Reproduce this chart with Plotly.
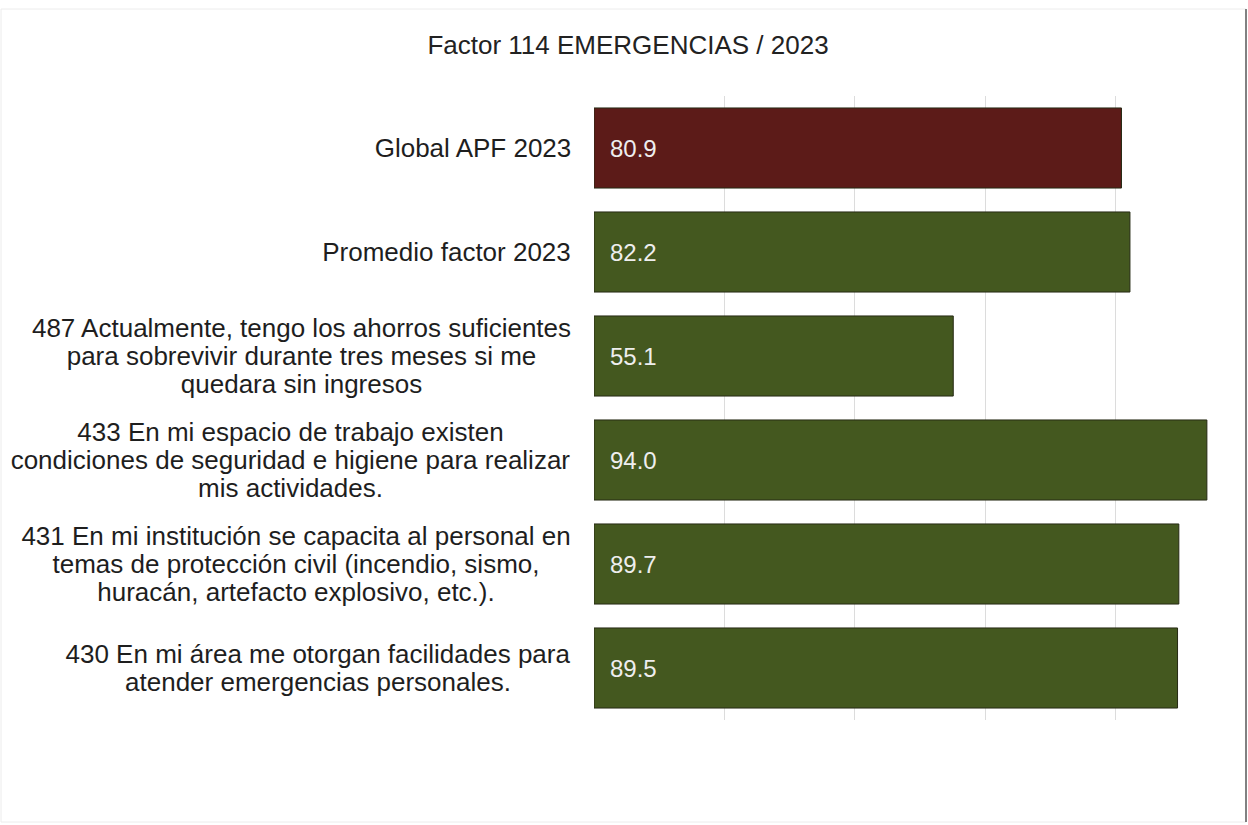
import plotly.graph_objects as go

# Chart data (top to bottom)
categories = [
    "Global APF 2023",
    "Promedio factor 2023",
    "487 Actualmente, tengo los ahorros suficientes\npara sobrevivir durante tres meses si me\nquedara sin ingresos",
    "433 En mi espacio de trabajo existen\ncondiciones de seguridad e higiene para realizar\nmis actividades.",
    "431 En mi institución se capacita al personal en\ntemas de protección civil (incendio, sismo,\nhuracán, artefacto explosivo, etc.).",
    "430 En mi área me otorgan facilidades para\natender emergencias personales.",
]
values = [80.9, 82.2, 55.1, 94.0, 89.7, 89.5]
bar_colors = ["#5c1b18", "#44581f", "#44581f", "#44581f", "#44581f", "#44581f"]
title_text = "Factor 114 EMERGENCIAS / 2023"

# Approximate width (px) of each multi-line label block, used to centre its lines
label_block_widths = [196, 249, 539, 561, 550, 506]

W, H = 1248, 825
ML, MR, MT, MB = 594, 2, 96, 105
plot_w = W - ML - MR
plot_h = H - MT - MB

FONT = "Liberation Sans, Arial, sans-serif"

fig = go.Figure()
fig.add_trace(go.Bar(
    y=categories,
    x=values,
    orientation="h",
    marker=dict(color=bar_colors, line=dict(color="#262a14", width=1)),
    width=0.77,
    hoverinfo="skip",
    showlegend=False,
))

annotations = []
# value labels inside each bar, near its base
for cat, v in zip(categories, values):
    annotations.append(dict(
        x=0, y=cat, xref="x", yref="y",
        text=f"{v:.1f}", showarrow=False,
        xanchor="left", yanchor="middle", xshift=14,
        font=dict(family=FONT, size=24, color="#eeeeee"),
    ))

# category labels, centred line by line, right edge just left of the axis
label_right = (573 - ML) / plot_w
line_h = 28
for cat, bw in zip(categories, label_block_widths):
    lines = cat.split("\n")
    n = len(lines)
    for i, ln in enumerate(lines):
        off = (i - (n - 1) / 2) * line_h
        annotations.append(dict(
            x=label_right, y=cat, xref="paper", yref="y",
            text=ln, showarrow=False,
            xanchor="right", yanchor="middle", yshift=-off,
            width=bw, align="center",
            font=dict(family=FONT, size=26, color="#1e1e1e"),
        ))

shapes = [
    # outer frame
    dict(type="rect", xref="paper", yref="paper",
         x0=-(ML - 1) / plot_w, x1=(1246 - ML) / plot_w,
         y0=-(822 - (MT + plot_h)) / plot_h, y1=1 + (MT - 9) / plot_h,
         line=dict(color="#ececec", width=1), layer="below"),
    dict(type="line", xref="paper", yref="paper",
         x0=(1246 - ML) / plot_w, x1=(1246 - ML) / plot_w,
         y0=-(822 - (MT + plot_h)) / plot_h, y1=1 + (MT - 9) / plot_h,
         line=dict(color="#5a5a5a", width=1.5)),
]

fig.update_layout(
    width=W, height=H,
    margin=dict(l=ML, r=MR, t=MT, b=MB),
    paper_bgcolor="white", plot_bgcolor="white",
    title=dict(text=title_text, x=628 / W, xref="container", xanchor="center",
               y=1 - 45 / H, yref="container", yanchor="middle",
               font=dict(family=FONT, size=26, color="#222222")),
    xaxis=dict(range=[0, 100], tickvals=[0, 20, 40, 60, 80],
               showticklabels=False, showgrid=True, gridcolor="#dcdcdc",
               gridwidth=1, zeroline=False, showline=False, fixedrange=True),
    yaxis=dict(autorange="reversed", showticklabels=False, showgrid=False,
               zeroline=False, showline=False, fixedrange=True),
    bargap=0.23,
    annotations=annotations,
    shapes=shapes,
)

fig.write_html("out.html", config={"displayModeBar": False})
